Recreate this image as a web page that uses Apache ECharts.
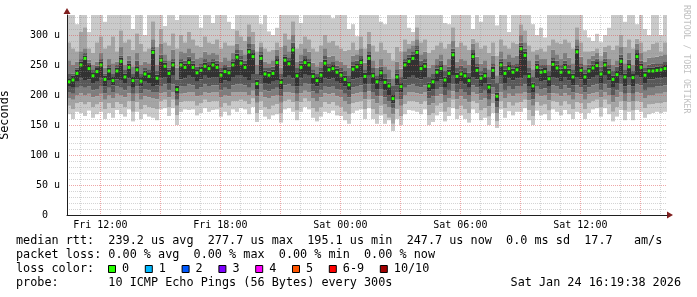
<!DOCTYPE html>
<html><head><meta charset="utf-8">
<script src="https://cdn.jsdelivr.net/npm/echarts@6/dist/echarts.min.js"></script>
<style>html,body{margin:0;padding:0;background:#fff}#c{width:697px;height:297px}</style>
</head><body><div id="c"></div>
<script>
// ---- time base (hours since Fri 00:00), 12-minute steps ----
const startHour = 10 + 20/60;
const stepHours = 0.2;
const endHour = startHour + 30;

// ---- axis ticks / labels ----
const xLabelHours = [12, 18, 24, 30, 36];
const xLabels = ['Fri 12:00', 'Fri 18:00', 'Sat 00:00', 'Sat 06:00', 'Sat 12:00'];
const xMajorHours = [12, 15, 18, 21, 24, 27, 30, 33, 36, 39];
const xMinorHours = [11, 13, 14, 16, 17, 19, 20, 22, 23, 25, 26, 28, 29, 31, 32, 34, 35, 37, 38, 40];
const yTicks = [0, 50, 100, 150, 200, 250, 300];
const yLabels = ['0  ', '50 u', '100 u', '150 u', '200 u', '250 u', '300 u'];
const yMinor = [10,20,30,40,60,70,80,90,110,120,130,140,160,170,180,190,210,220,230,240,260,270,280,290,310,320,330];

// ---- median rtt (us) ----
const median = [
 222,225,236,250,261,244,232,239,250,226, 240,224,240,256,230,246,224,242,223,235,
 231,271,228,258,248,236,250,209,250,246, 254,246,237,241,248,244,250,246,
 233,239,237,250,263,253,246,272,264,219, 261,235,233,236,254,221,258,252,275,232,
 246,254,250,231,224,233,253,242,244,238, 233,226,217,243,247,254,231,261,
 232,222,237,221,215,194,230,214,250,256, 261,271,244,248,215,222,238,244,225,236,
 267,231,235,232,224,264,241,228,232,213, 241,198,250,236,244,238,242,
 277,266,231,215,246,238,239,227,251,245, 238,246,238,230,272,241,230,240,245,249,
 235,250,238,226,234,256,230,247,229,264, 246,233,240,240,241,242,244
];
// ---- sorted pings (us), ping1 = lowest ... ping10 = highest ----
const ping1 = [
 168,160,172,170,165,174,162,168,172,160, 170,162,175,168,164,176,156,172,160,168,
 164,162,158,176,178,165,178,150,172,176, 175,176,166,170,178,172,175,176,
 164,172,166,176,172,178,176,168,180,155, 175,164,160,166,168,154,176,178,172,158,
 172,180,176,162,156,164,172,170,174,166, 165,158,152,170,174,176,160,178,
 160,152,166,152,158,140,160,150,168,175, 174,172,168,176,150,155,166,172,156,165,
 178,160,166,160,154,176,170,158,162,150, 170,145,176,162,173,166,172,
 172,178,158,150,174,166,168,158,176,172, 166,175,168,160,172,170,160,170,176,178,
 164,178,168,156,164,175,158,172,158,175, 172,162,168,170,172,170,172
];
const ping2 = [
 182,176,186,188,184,188,180,184,188,176, 186,178,188,185,180,190,172,188,176,183,
 180,178,176,190,192,180,192,166,188,190, 190,190,182,186,192,188,190,190,
 180,186,182,190,190,192,190,185,194,170, 190,180,176,182,185,170,190,192,188,174,
 188,194,190,178,172,180,188,185,188,182, 180,172,168,186,188,190,176,192,
 176,168,182,168,162,152,176,165,185,190, 190,188,185,190,166,170,182,186,172,180,
 192,176,182,176,170,190,186,174,178,164, 186,156,190,178,188,182,187,
 188,192,175,165,188,182,184,174,190,188, 182,190,184,176,188,186,176,186,190,192,
 180,192,184,172,180,190,174,188,174,190, 188,178,184,185,186,186,188
];
const ping3 = [
 195,192,200,203,200,202,196,198,202,192, 200,194,202,200,196,203,190,202,192,198,
 196,194,193,203,205,196,205,182,202,203, 205,204,198,200,205,203,204,204,
 196,200,198,204,205,205,204,200,207,187, 205,196,194,198,200,187,204,205,203,190,
 203,207,205,194,190,196,203,201,203,198, 196,190,185,201,203,204,193,206,
 193,186,198,185,180,168,192,182,200,204, 205,203,201,204,183,186,198,201,188,195,
 206,193,198,193,188,204,201,191,195,181, 201,170,205,195,202,198,202,
 202,205,191,182,202,198,199,191,203,202, 198,203,199,192,203,201,192,201,203,205,
 196,205,199,188,196,205,190,203,190,205, 203,195,200,200,202,202,204
];
const ping4 = [
 205,202,212,215,212,214,208,210,215,203, 212,205,214,212,208,215,202,214,203,210,
 208,205,205,215,218,208,218,192,214,215, 218,216,210,213,218,215,216,216,
 208,212,210,216,218,218,216,212,220,198, 218,208,206,210,212,198,216,218,215,202,
 215,220,218,206,202,208,215,213,215,210, 208,202,196,213,215,216,205,218,
 205,198,210,196,190,178,204,193,212,216, 218,215,213,216,194,198,210,213,200,207,
 218,205,210,205,200,216,213,203,207,192, 213,180,218,207,215,210,214,
 215,218,203,193,215,210,211,203,216,214, 210,216,211,204,216,213,204,213,216,218,
 208,218,211,200,208,218,202,216,202,218, 216,207,212,212,214,214,216
];
const ping5 = [
 215,212,222,228,225,226,220,222,228,214, 225,216,226,225,220,228,212,226,214,222,
 220,215,216,228,230,220,232,202,226,228, 232,230,222,226,232,228,230,230,
 220,224,222,230,232,232,230,225,235,210, 232,220,218,222,225,210,230,232,228,214,
 228,235,232,218,214,220,228,226,228,222, 220,214,208,226,228,230,218,232,
 218,210,222,208,200,186,216,204,226,230, 232,228,226,230,206,210,222,226,212,220,
 232,218,222,218,212,230,226,215,220,202, 226,190,232,220,228,224,228,
 228,232,215,205,228,222,224,215,230,228, 222,230,224,216,230,226,216,226,230,232,
 220,232,224,212,220,232,214,230,214,232, 230,220,226,226,228,228,230
];
const ping6 = [
 228,232,242,256,266,250,238,245,256,232, 246,230,246,262,236,252,230,248,230,241,
 238,276,234,263,254,242,256,216,256,252, 260,252,243,247,254,250,256,252,
 239,245,243,256,269,259,252,277,270,226, 267,241,239,242,260,227,264,258,280,238,
 252,260,256,237,230,239,259,248,250,244, 239,232,223,249,253,260,237,267,
 238,228,243,227,221,200,236,220,256,262, 267,276,250,254,221,228,244,250,231,242,
 272,237,241,238,230,270,247,234,238,219, 247,204,256,242,250,244,248,
 282,272,237,221,252,244,245,233,257,251, 244,252,244,236,277,247,236,246,251,255,
 241,256,244,232,240,262,236,253,235,270, 252,239,246,246,247,248,250
];
const ping7 = [
 235,236,246,260,270,254,243,249,260,236, 250,235,250,266,243,257,235,257,235,245,
 243,280,240,267,258,246,260,225,260,257, 264,257,247,253,260,255,260,257,
 245,250,247,260,275,265,257,285,275,235, 273,245,245,247,265,235,268,263,287,245,
 257,265,260,243,235,245,265,253,255,249, 245,240,233,255,257,265,243,273,
 245,233,247,235,227,215,243,230,260,267, 273,283,257,260,230,235,250,257,240,247,
 277,245,249,245,237,275,253,240,245,230, 253,220,261,249,255,250,253,
 287,277,245,230,257,250,250,240,263,257, 250,257,250,243,283,253,243,251,257,261,
 247,261,250,240,247,267,243,259,240,275, 257,245,251,252,253,253,255
];
const ping8 = [
 258,250,256,273,278,259,250,256,270,246, 260,253,256,280,250,266,248,270,250,256,
 253,293,250,286,268,258,276,246,273,270, 278,270,260,263,272,268,270,268,
 256,263,258,270,286,276,268,298,286,250, 280,256,253,258,276,246,283,273,300,256,
 268,278,272,254,248,256,278,264,266,258, 256,250,246,266,268,278,254,286,
 258,246,260,248,243,228,256,244,273,278, 283,293,268,272,246,250,260,268,250,260,
 290,256,260,258,250,286,264,252,258,243, 266,233,273,260,268,263,266,
 300,288,258,243,268,260,260,250,276,268, 260,270,262,253,293,264,250,260,266,270,
 258,272,260,250,258,280,253,270,250,286, 270,256,262,263,264,266,268
];
const ping9 = [
 288,278,273,306,313,278,270,288,298,278, 283,298,273,308,288,293,276,303,286,273,
 278,323,280,310,288,283,303,278,300,288, 306,293,283,280,298,288,286,293,
 278,288,283,283,308,298,290,318,306,273, 288,278,273,276,288,280,303,293,323,278,
 286,298,293,278,273,283,300,288,290,283, 278,274,276,288,276,298,278,306,
 283,273,288,276,270,258,280,273,293,286, 291,313,288,293,270,276,283,288,278,286,
 313,280,288,283,276,294,288,278,283,270, 288,266,293,283,278,288,286,
 318,308,283,273,276,278,273,283,293,288, 286,293,288,278,313,288,273,273,274,278,
 266,280,283,276,283,300,280,293,278,294, 288,273,276,286,288,273,288
];
const ping10 = [
 335,335,318,335,335,305,335,335,335,322, 335,335,335,335,335,335,310,335,335,300,
 335,335,335,335,315,335,335,325,335,335, 335,335,335,312,335,335,320,335,
 335,335,322,310,335,335,335,335,335,335, 318,335,306,300,312,335,335,335,335,335,
 320,335,335,335,335,335,335,335,328,335, 335,335,310,318,298,335,335,335,
 335,335,322,318,335,335,335,335,335,312, 305,335,335,335,335,335,335,335,320,318,
 335,335,335,335,335,310,335,322,335,335, 335,316,335,335,305,335,335,
 335,335,335,318,300,312,296,335,335,335, 335,335,335,335,335,335,308,296,290,302,
 288,300,312,335,335,335,322,335,335,318, 335,310,300,335,335,300,335
];

// ---- legend ----
const statLine = 'median rtt:  239.2 us avg  277.7 us max  195.1 us min  247.7 us now  0.0 ms sd  17.7   am/s';
const lossLine = 'packet loss: 0.00 % avg  0.00 % max  0.00 % min  0.00 % now';
const lossLabels = ['0', '1', '2', '3', '4', '5', '6-9', '10/10'];
const lossColors = ['#26ff00', '#00b8ff', '#0059ff', '#7e00ff', '#ff00ff', '#ff5500', '#ff0000', '#a10000'];
const probeLine = 'probe:       10 ICMP Echo Pings (56 Bytes) every 300s';
const stampText = 'Sat Jan 24 16:19:38 2026';
const watermark = 'RRDTOOL / TOBI OETIKER';

const pings = [ping1, ping2, ping3, ping4, ping5, ping6, ping7, ping8, ping9, ping10];
const shades = ['#cacaca', '#a4a4a4', '#7e7e7e', '#585858', '#323232', '#585858', '#7e7e7e', '#a4a4a4', '#cacaca'];
const rows = median.map((m, i) => [startHour + i * stepHours].concat(pings.map(p => p[i])).concat([m]));

const MONO = '"DejaVu Sans Mono", monospace';
const chart = echarts.init(document.getElementById('c'), null, {renderer: 'canvas'});

function renderSmoke(params, api) {
  const t = api.value(0);
  const x0 = api.coord([t, 0])[0];
  const x1 = api.coord([t + stepHours, 0])[0];
  const cs = params.coordSys;
  const clip = {x: cs.x, y: cs.y, width: cs.width, height: cs.height};
  const children = [];
  for (let k = 0; k < 9; k++) {
    const yLo = api.coord([t, api.value(1 + k)])[1];
    const yHi = api.coord([t, api.value(2 + k)])[1];
    const r = echarts.graphic.clipRectByRect({x: x0, y: yHi, width: x1 - x0, height: yLo - yHi}, clip);
    if (r) children.push({type: 'rect', shape: r, style: {fill: shades[k]}});
  }
  const ym = api.coord([t, api.value(11)])[1];
  const w = x1 - x0;
  children.push({type: 'rect', shape: {x: x0 + w * 0.15, y: ym - 1.5, width: w * 0.7, height: 3}, style: {fill: '#26ff00'}});
  return {type: 'group', children};
}

// legend graphics
const graphics = [];
function txt(x, y, text, extra) {
  graphics.push(Object.assign({type: 'text', x, y, silent: true,
    style: {text, fill: '#000', font: '11.8px ' + MONO, align: 'left', verticalAlign: 'middle', textAlign: 'left', textVerticalAlign: 'middle'}}, extra || {}));
}
txt(16, 241, statLine);
txt(16, 255, lossLine);
txt(16, 269, 'loss color:');
let bx = 108;
lossLabels.forEach((lab, k) => {
  graphics.push({type: 'rect', silent: true, shape: {x: bx + 0.5, y: 265.5, width: 7, height: 7},
    style: {fill: lossColors[k], stroke: '#000', lineWidth: 1}});
  txt(bx + 14, 269, lab);
  bx = bx + 29.7 + lab.length * 7.1;
});
txt(16, 283, probeLine);
graphics.push({type: 'text', x: 681, y: 283, silent: true,
  style: {text: stampText, fill: '#000', font: '11.8px ' + MONO, align: 'right', verticalAlign: 'middle', textAlign: 'right', textVerticalAlign: 'middle'}});
graphics.push({type: 'text', x: 686, y: 5, rotation: -Math.PI / 2, silent: true,
  style: {text: watermark, fill: '#c0c0c0', font: '8.2px ' + MONO, align: 'left', verticalAlign: 'middle', textAlign: 'left', textVerticalAlign: 'middle'}});
// axis arrows
graphics.push({type: 'polygon', silent: true, shape: {points: [[667, 211.5], [673, 215], [667, 218.5]]}, style: {fill: '#801f1f'}});
graphics.push({type: 'polygon', silent: true, shape: {points: [[63.5, 14], [67, 8], [70.5, 14]]}, style: {fill: '#801f1f'}});

const minorStyle = {color: 'rgba(143,143,143,0.38)', width: 1, type: [1, 1]};
const majorStyle = {color: 'rgba(222,79,79,0.5)', width: 1, type: [1, 1]};

chart.setOption({
  animation: false,
  backgroundColor: '#fff',
  grid: {left: 67, right: 30, top: 15, bottom: 82, containLabel: false, outerBoundsMode: 'none'},
  xAxis: [
    {type: 'value', min: startHour, max: endHour, position: 'bottom', z: 5,
     axisLine: {show: true, lineStyle: {color: '#1f1f1f', width: 1}},
     axisTick: {show: false, customValues: xMajorHours},
     axisLabel: {customValues: xLabelHours, formatter: v => xLabels[xLabelHours.indexOf(v)],
                 margin: 5, fontFamily: MONO, fontSize: 10, color: '#000'},
     splitLine: {show: true, lineStyle: majorStyle}},
    {type: 'value', min: startHour, max: endHour, position: 'top', z: 4,
     axisLine: {show: false}, axisTick: {show: false, customValues: xMinorHours},
     axisLabel: {show: false}, splitLine: {show: true, lineStyle: minorStyle}}
  ],
  yAxis: [
    {type: 'value', min: 0, max: 1000 / 3, position: 'left', z: 5,
     name: 'Seconds', nameLocation: 'middle', nameGap: 56, nameRotate: 90,
     nameTextStyle: {fontFamily: MONO, fontSize: 11.8, color: '#000'},
     axisLine: {show: true, lineStyle: {color: '#1f1f1f', width: 1}},
     axisTick: {show: false, customValues: yTicks},
     axisLabel: {customValues: yTicks, formatter: v => yLabels[yTicks.indexOf(v)],
                 margin: 7, fontFamily: MONO, fontSize: 10, color: '#000'},
     splitLine: {show: true, lineStyle: majorStyle}},
    {type: 'value', min: 0, max: 1000 / 3, position: 'right', z: 4,
     axisLine: {show: false}, axisTick: {show: false, customValues: yMinor},
     axisLabel: {show: false}, splitLine: {show: true, lineStyle: minorStyle}}
  ],
  series: [{
    type: 'custom', xAxisIndex: 0, yAxisIndex: 0, z: 2,
    renderItem: renderSmoke, data: rows, encode: {x: 0, y: 11}, silent: true
  }],
  graphic: {elements: graphics}
});
</script>
</body></html>
